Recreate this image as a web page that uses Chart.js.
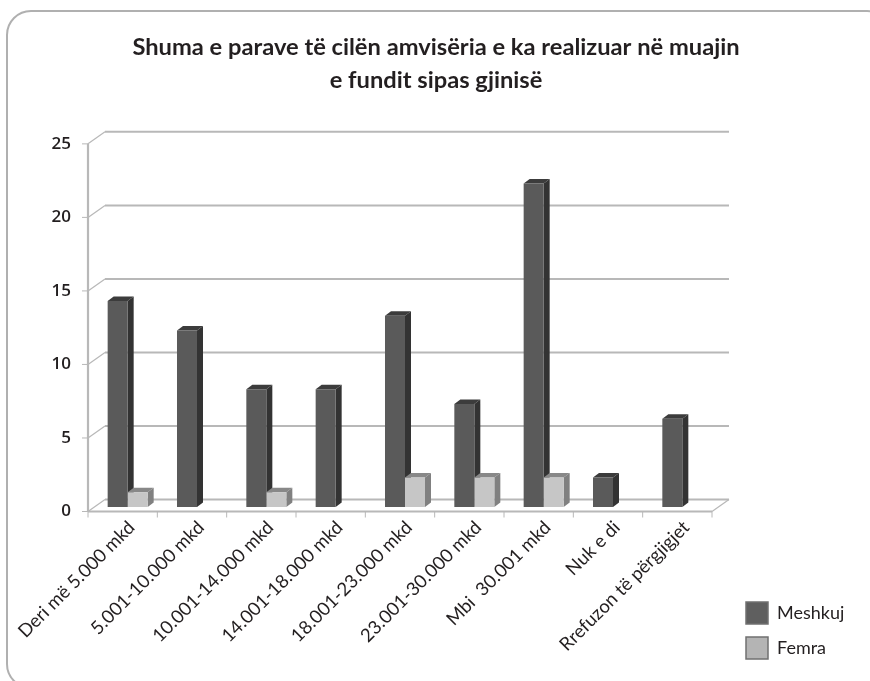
<!DOCTYPE html>
<html>
<head>
<meta charset="utf-8">
<style>
    html, body { margin: 0; padding: 0; background: #fff; }
    #wrap { position: relative; width: 870px; height: 681px; }
</style>
<script src="https://cdn.jsdelivr.net/npm/chart.js@4"></script>
</head>
<body>
<div id="wrap"><canvas id="chart"></canvas></div>
<script>
// Chart data
const titleLines = ['Shuma e parave të cilën amvisëria e ka realizuar në muajin', 'e fundit sipas gjinisë'];
const categories = ['Deri më 5.000 mkd', '5.001-10.000 mkd', '10.001-14.000 mkd', '14.001-18.000 mkd',
    '18.001-23.000 mkd', '23.001-30.000 mkd', 'Mbi  30.001 mkd', 'Nuk e di', 'Rrefuzon të përgjigjet'];
const meshkuj = [14, 12, 8, 8, 13, 7, 22, 2, 6];
const femra = [1, 0, 1, 0, 2, 2, 2, 0, 0];
const yTicks = [0, 5, 10, 15, 20, 25];

const GRID_COLOR = '#b8b8b8';
const TEXT_COLOR = '#231f20';
const FONT = 'Lato, "Open Sans", sans-serif';

// Fake 3D offsets in pixels
const WALL_DX = 17, WALL_DY = -12;
const BAR_DX = 5, BAR_DY = -4.5;
const DEPTH_X = 6, DEPTH_Y = -4.5;

// Rounded card behind the chart
const cardPlugin = {
    id: 'card',
    beforeDraw(chart) {
        const ctx = chart.ctx;
        ctx.save();
        ctx.strokeStyle = '#b0b0b0';
        ctx.lineWidth = 2;
        ctx.beginPath();
        ctx.roundRect(7, 11, 884, 677, 24);
        ctx.stroke();
        ctx.restore();
    }
};

// Side and top faces of the bars, drawn before any front face
function drawBarFaces(chart) {
    const ctx = chart.ctx;
    ctx.save();
    ctx.translate(BAR_DX, BAR_DY);
    chart.data.datasets.forEach((ds, index) => {
        chart.getDatasetMeta(index).data.forEach((bar, i) => {
            if (!ds.data[i]) return;
            const p = bar.getProps(['x', 'y', 'base', 'width'], true);
            const l = p.x - p.width / 2, r = p.x + p.width / 2;
            // top face
            ctx.fillStyle = ds.topColor;
            ctx.beginPath();
            ctx.moveTo(l, p.y);
            ctx.lineTo(l + DEPTH_X, p.y + DEPTH_Y);
            ctx.lineTo(r + DEPTH_X, p.y + DEPTH_Y);
            ctx.lineTo(r, p.y);
            ctx.closePath();
            ctx.fill();
            // side face
            ctx.fillStyle = ds.sideColor;
            ctx.beginPath();
            ctx.moveTo(r, p.y);
            ctx.lineTo(r + DEPTH_X, p.y + DEPTH_Y);
            ctx.lineTo(r + DEPTH_X, p.base + DEPTH_Y);
            ctx.lineTo(r, p.base);
            ctx.closePath();
            ctx.fill();
        });
    });
    ctx.restore();
}

const framePlugin = {
    id: 'frame',
    beforeDatasetsDraw(chart) {
        const { ctx, chartArea: area, scales } = chart;
        const y = scales.y;
        const line = (x1, y1, x2, y2, w) => {
            ctx.lineWidth = w;
            ctx.beginPath();
            ctx.moveTo(x1, y1);
            ctx.lineTo(x2, y2);
            ctx.stroke();
        };
        ctx.save();
        ctx.strokeStyle = GRID_COLOR;
        yTicks.forEach(t => {
            const py = y.getPixelForValue(t);
            line(area.left, py, area.left + WALL_DX, py + WALL_DY, 1.2);
            line(area.left + WALL_DX, py + WALL_DY, area.right + WALL_DX, py + WALL_DY, 2);
            line(area.left - 6, py, area.left, py, 1);
        });
        line(area.left, y.getPixelForValue(25), area.left, area.bottom, 2.2);
        line(area.left, area.bottom, area.right, area.bottom, 2);
        line(area.right, area.bottom, area.right + WALL_DX, area.bottom + WALL_DY, 1.2);
        for (let i = 0; i <= categories.length; i++) {
            const px = area.left + i * (area.right - area.left) / categories.length;
            line(px, area.bottom, px, area.bottom + 6, 1);
        }
        ctx.restore();
        drawBarFaces(chart);
    },
    beforeDatasetDraw(chart) {
        chart.ctx.save();
        chart.ctx.translate(BAR_DX, BAR_DY);
    },
    afterDatasetDraw(chart) {
        chart.ctx.restore();
    },
    // Legend sits in the lower right corner of the card, title is centred on the whole card
    beforeDraw(chart) {
        const legend = chart.legend;
        legend.left = 733;
        legend.top = 589;
        legend.right = 870;
        legend.bottom = 681;
        legend.width = 137;
        legend.height = 92;
        chart.titleBlock.left = 0;
        chart.titleBlock.right = 872;
    }
};

const chart = new Chart(document.getElementById('chart'), {
    type: 'bar',
    data: {
        labels: categories,
        datasets: [
            { label: 'Meshkuj', data: meshkuj, backgroundColor: '#5a5a5a', topColor: '#3c3c3c', sideColor: '#333333' },
            { label: 'Femra', data: femra, backgroundColor: '#c6c6c6', topColor: '#888888', sideColor: '#808080' }
        ]
    },
    options: {
        responsive: true,
        maintainAspectRatio: false,
        animation: false,
        layout: { padding: { top: 30.5, right: 58, left: 0, bottom: 0 } },
        datasets: { bar: { categoryPercentage: 0.577, barPercentage: 1 } },
        plugins: {
            tooltip: { enabled: false },
            title: {
                display: true,
                text: titleLines,
                color: TEXT_COLOR,
                font: { family: FONT, size: 23.7, weight: 'bold', lineHeight: 1.4 },
                padding: { top: 0, bottom: 47 }
            },
            legend: {
                position: 'right',
                align: 'start',
                maxWidth: 100,
                labels: {
                    boxWidth: 22,
                    boxHeight: 22,
                    padding: 13,
                    color: TEXT_COLOR,
                    font: { family: FONT, size: 18 },
                    generateLabels(c) {
                        return c.data.datasets.map((d, i) => ({
                            text: d.label,
                            fillStyle: i === 0 ? '#5f5f5f' : '#b4b4b4',
                            strokeStyle: '#707070',
                            lineWidth: 1.5,
                            fontColor: TEXT_COLOR,
                            datasetIndex: i
                        }));
                    }
                }
            }
        },
        scales: {
            x: {
                grid: { display: false },
                border: { display: false },
                afterFit(scale) { scale.height = 169.5; },
                ticks: {
                    minRotation: 45,
                    maxRotation: 45,
                    autoSkip: false,
                    padding: -3,
                    labelOffset: 9,
                    color: TEXT_COLOR,
                    font: { family: FONT, size: 18.5 }
                }
            },
            y: {
                min: 0,
                max: 25,
                grid: { display: false },
                border: { display: false },
                afterFit(scale) { scale.width = 88; },
                ticks: {
                    stepSize: 5,
                    padding: 9,
                    color: TEXT_COLOR,
                    font: { family: '"Open Sans", sans-serif', size: 17, weight: '600' }
                }
            }
        }
    },
    plugins: [cardPlugin, framePlugin]
});
</script>
</body>
</html>
